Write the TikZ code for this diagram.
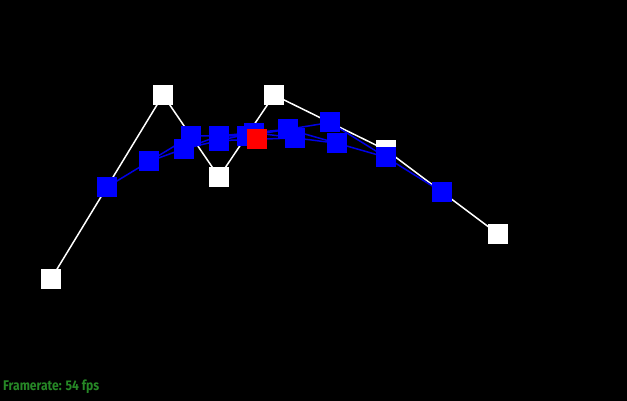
\documentclass[tikz,border=0pt]{standalone}
\usepackage{fontspec}
\newfontfamily\fpsfont{Fira Sans}
\usetikzlibrary{calc}
\definecolor{fpsgreen}{RGB}{38,136,38}

\tikzset{
  sq/.style={minimum size=20pt, inner sep=0pt, outer sep=0pt},
  ctrl/.style={sq, fill=white},
  mid/.style={sq, fill=blue},
  hit/.style={sq, fill=red},
  hull/.style={white, line width=1.5pt},
  lvl/.style={blue!90!black, line width=1.5pt}
}

\begin{document}
\begin{tikzpicture}[x=1pt,y=-1pt]
  \fill[black] (0,0) rectangle (627,401);
  \useasboundingbox (0,0) rectangle (627,401);

  % control points
  \coordinate (P0) at (51,279);
  \coordinate (P1) at (163,95);
  \coordinate (P2) at (219,177);
  \coordinate (P3) at (274,95);
  \coordinate (P4) at (386,150);
  \coordinate (P5) at (498,234);

  % de Casteljau levels, t = 0.5
  \coordinate (A0) at ($(P0)!0.5!(P1)$);
  \coordinate (A1) at ($(P1)!0.5!(P2)$);
  \coordinate (A2) at ($(P2)!0.5!(P3)$);
  \coordinate (A3) at ($(P3)!0.5!(P4)$);
  \coordinate (A4) at ($(P4)!0.5!(P5)$);

  \coordinate (B0) at ($(A0)!0.5!(A1)$);
  \coordinate (B1) at ($(A1)!0.5!(A2)$);
  \coordinate (B2) at ($(A2)!0.5!(A3)$);
  \coordinate (B3) at ($(A3)!0.5!(A4)$);

  \coordinate (C0) at ($(B0)!0.5!(B1)$);
  \coordinate (C1) at ($(B1)!0.5!(B2)$);
  \coordinate (C2) at ($(B2)!0.5!(B3)$);

  \coordinate (D0) at ($(C0)!0.5!(C1)$);
  \coordinate (D1) at ($(C1)!0.5!(C2)$);

  \coordinate (E0) at ($(D0)!0.5!(D1)$);

  % hull
  \draw[hull] (P0) -- (P1) -- (P2) -- (P3) -- (P4) -- (P5);
  \foreach \p in {P0,P1,P2,P3,P4,P5}
    \node[ctrl] at (\p) {};

  % levels
  \draw[lvl] (A0) -- (A1) -- (A2) -- (A3) -- (A4);
  \draw[lvl] (B0) -- (B1) -- (B2) -- (B3);
  \draw[lvl] (C0) -- (C1) -- (C2);
  \draw[lvl] (D0) -- (D1);
  \foreach \p in {A0,A1,A2,A3,A4,B0,B1,B2,B3,C0,C1,C2,D0,D1}
    \node[mid] at (\p) {};

  \node[hit] (curve) at (E0) {};

  \node[anchor=base west, inner sep=0pt, text=fpsgreen, font=\fpsfont\bfseries\fontsize{14}{16}\selectfont]
    (fps) at (3,390.5) {\scalebox{0.865}[1]{Framerate: 54 fps}};
\end{tikzpicture}
\end{document}
